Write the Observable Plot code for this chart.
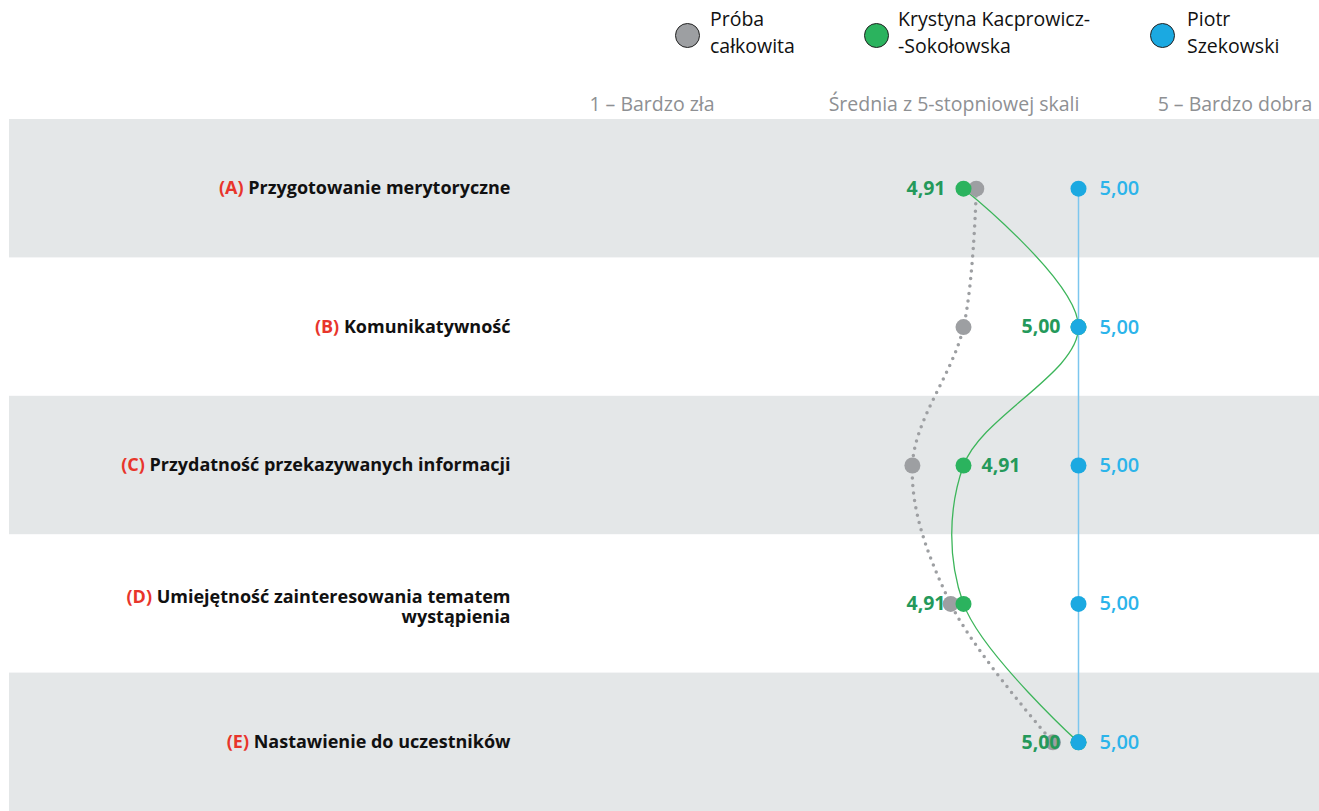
<!DOCTYPE html>
<html>
<head>
<meta charset="utf-8">
<script src="https://cdn.jsdelivr.net/npm/d3@7"></script>
<script src="https://cdn.jsdelivr.net/npm/@observablehq/plot@0.6"></script>
<style>
  html, body { margin: 0; padding: 0; background: #fff; }
  #wrap { position: relative; width: 1319px; height: 811px; font-family: "Open Sans", sans-serif; overflow: hidden; }
  #head { position: relative; width: 1319px; height: 119px; }
  .lg-dot { position: absolute; width: 25px; height: 25px; border-radius: 50%; border: 1.5px solid #222; box-sizing: border-box; }
  .lg-txt { position: absolute; font-size: 19.5px; line-height: 27px; color: #111; white-space: nowrap; }
  .hd { position: absolute; top: 90px; font-size: 19.5px; color: #8e9093; white-space: nowrap; transform: translateX(-50%); }
  #chart svg { display: block; }
</style>
</head>
<body>
<div id="wrap">
  <div id="head"></div>
  <div id="chart"></div>
</div>
<script>
// ---- data ----
const categories = ["A", "B", "C", "D", "E"];
const itemLabels = [
  "Przygotowanie merytoryczne",
  "Komunikatywność",
  "Przydatność przekazywanych informacji",
  "Umiejętność zainteresowania tematem\nwystąpienia",
  "Nastawienie do uczestników"
];
const seriesNames = ["Próba\ncałkowita", "Krystyna Kacprowicz-\n-Sokołowska", "Piotr\nSzekowski"];
const probaCalkowita = [4.92, 4.91, 4.87, 4.90, 4.98];
const kacprowicz = [4.91, 5.00, 4.91, 4.91, 5.00];
const szekowski = [5.00, 5.00, 5.00, 5.00, 5.00];
const headerLabels = ["1 – Bardzo zła", "Średnia z 5-stopniowej skali", "5 – Bardzo dobra"];

// ---- styles / layout ----
const colGray = "#9d9fa2", colGreen = "#2bb35e", colGreenTxt = "#24995a", colBlue = "#1ba9e1", colBlueTxt = "#2cb4ea", colBlueLine = "#7cc6ee";
const greenLabelSide = ["left", "left", "right", "left", "left"];
const W = 1319, H = 692;
const rowPx = H / categories.length;
const labelFontPx = 18;
const labelLinePx = 20;
const labelRight = 510;
const labelFont = `700 ${labelFontPx}px "Open Sans"`;

// header (legend + scale captions)
const head = document.getElementById("head");
const legendPos = [{cx: 687, tx: 710, c: colGray}, {cx: 876, tx: 898, c: colGreen}, {cx: 1162, tx: 1187, c: colBlue}];
seriesNames.forEach((n, i) => {
  const p = legendPos[i];
  const d = document.createElement("div");
  d.className = "lg-dot";
  d.style.left = (p.cx - 12.5) + "px"; d.style.top = (35 - 12.5) + "px"; d.style.background = p.c;
  head.appendChild(d);
  const t = document.createElement("div");
  t.className = "lg-txt";
  t.style.left = p.tx + "px"; t.style.top = "5px";
  t.innerHTML = n.split("\n").join("<br>");
  head.appendChild(t);
});
[652, 954, 1235].forEach((cx, i) => {
  const t = document.createElement("div");
  t.className = "hd";
  t.style.left = cx + "px";
  t.textContent = headerLabels[i];
  head.appendChild(t);
});

// text measurement for placing the red "(X)" prefix in front of each label
const ctx = document.createElement("canvas").getContext("2d");
ctx.font = labelFont;
const measure = s => ctx.measureText(s).width;

const pxPerUnit = (1078 - 963) / 0.09;
const xAt = px => 5 + (px - 1078) / pxPerUnit;
const fmt = v => v.toFixed(2).replace(".", ",");

// rows
const rows = categories.map((c, i) => ({
  i, cat: c,
  proba: probaCalkowita[i], green: kacprowicz[i], blue: szekowski[i],
  side: greenLabelSide[i]
}));
// one datum per label line (multi-line labels are stacked around the row centre)
const labelLines = [];
const prefixes = [];
categories.forEach((c, i) => {
  const parts = itemLabels[i].split("\n");
  parts.forEach((p, k) => {
    const pos = i + ((k - (parts.length - 1) / 2) * labelLinePx + (parts.length > 1 ? 3 : 0)) / rowPx;
    labelLines.push({i, pos, text: p});
    if (k === 0) prefixes.push({i, pos, text: `(${c})`, x: xAt(labelRight - measure(p) - measure(" "))});
  });
});

const plot = Plot.plot({
  width: W, height: H,
  margin: 0,
  x: {domain: [4.91, 5.00], range: [963, 1078], axis: null},
  y: {domain: [-0.5, categories.length - 0.5], range: [0, H], axis: null},
  style: {fontFamily: "Open Sans, sans-serif"},
  marks: [
    Plot.rect(rows.filter(r => r.i % 2 === 0), {x1: xAt(9), x2: xAt(W + 5), y1: r => r.i - 0.5, y2: r => r.i + 0.5, fill: "#e4e7e8"}),
    Plot.text(labelLines, {y: "pos", text: "text", frameAnchor: "left", dx: labelRight, textAnchor: "end", fontSize: labelFontPx, fontWeight: 700, fill: "#111"}),
    Plot.text(prefixes, {x: "x", y: "pos", text: "text", textAnchor: "end", fontSize: labelFontPx, fontWeight: 700, fill: "#e8352b"}),
    Plot.line(rows, {x: "proba", y: "i", stroke: colGray, strokeWidth: 3.5, strokeDasharray: "0 7.5", strokeLinecap: "round", curve: "catmull-rom"}),
    Plot.line(rows, {x: "green", y: "i", stroke: "#3cb55a", strokeWidth: 1.3, curve: "catmull-rom"}),
    Plot.line(rows, {x: "blue", y: "i", stroke: colBlueLine, strokeWidth: 1.5}),
    Plot.dot(rows, {x: "proba", y: "i", r: 8, fill: colGray}),
    Plot.dot(rows, {x: "green", y: "i", r: 8, fill: colGreen}),
    Plot.dot(rows, {x: "blue", y: "i", r: 8, fill: colBlue}),
    Plot.text(rows.filter(r => r.side === "left"), {x: "green", y: "i", text: r => fmt(r.green), dx: -18, textAnchor: "end", fill: colGreenTxt, fontSize: 19.5, fontWeight: 700}),
    Plot.text(rows.filter(r => r.side === "right"), {x: "green", y: "i", text: r => fmt(r.green), dx: 18, textAnchor: "start", fill: colGreenTxt, fontSize: 19.5, fontWeight: 700}),
    Plot.text(rows, {x: "blue", y: "i", text: r => fmt(r.blue), dx: 21, textAnchor: "start", fill: colBlueTxt, fontSize: 20, fontWeight: 600})
  ]
});

document.getElementById("chart").appendChild(plot);
</script>
</body>
</html>
